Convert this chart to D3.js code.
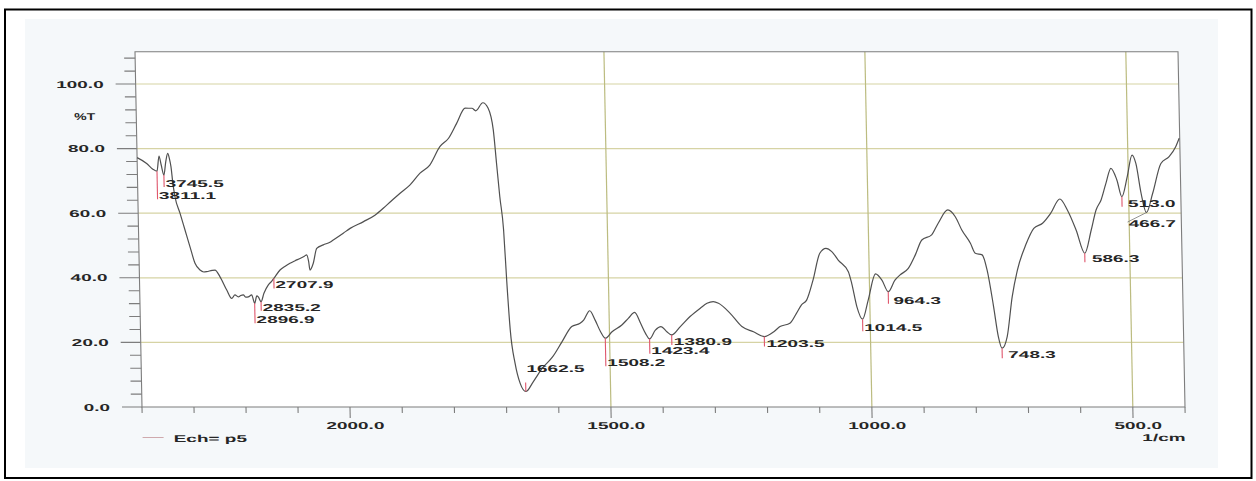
<!DOCTYPE html>
<html><head><meta charset="utf-8">
<script src="https://cdn.jsdelivr.net/npm/d3@7"></script>
<style>html,body{margin:0;padding:0;background:#fff;} svg{display:block;}</style>
</head><body>
<svg id="c" width="1256" height="481"></svg>
<script>
// ---------- data ----------
const wavenumber = [4000,3909,3850,3811.1,3789,3770,3745.5,3725,3705,3690,3676,3660,3643,3598,3553,3508,3463,3416,3380,3352,3300,3272,3225,3163,3117,3085,3053,3030,3005,2980,2957,2924,2896.9,2875,2861,2835.2,2806,2762,2730,2707.9,2647,2600,2550,2500,2453,2410,2388,2370,2359,2326,2290,2226,2162,2129,2032,1993,1967,1945,1922,1896,1877,1857,1838,1818,1801,1785,1768,1755,1748,1734,1724,1715,1710,1705,1699,1695,1690,1682,1673,1662.5,1648,1630,1610,1592,1572,1556,1549,1537,1527,1517,1508.2,1495,1476,1463,1451,1440,1431,1423.4,1412,1401,1390,1380.9,1364,1345,1325,1312,1300,1290,1268,1246,1224,1203.5,1185,1173,1154,1141,1131,1121,1108,1094,1082,1071,1059,1040,1034,1025,1014.5,1003,988,976,964.3,951,941,925,911,898,879,866,847,833,821,805,796,783,774,763,755,748.3,738,727,716,699,683,666,650,632,618,602,586.3,573,563,553,543,533,522,513,502,492,485,476,466.7,454,437,421,408,401];
const transmittance = [77.2,75.4,73.6,73.0,77.7,75.0,71.8,76.0,78.5,77.0,74.4,69.0,65.1,60.0,54.8,49.6,44.5,42.4,41.8,41.9,42.3,42.4,40.3,36.2,33.6,34.7,34.1,34.5,34.7,34.0,34.1,34.7,32.1,34.4,34.1,32.6,35.2,37.8,38.9,39.8,42.4,43.5,44.5,45.3,46.0,46.7,47.1,45.0,42.4,44.5,49.1,50.2,51.0,51.7,53.8,55.3,57.4,59.4,62.5,66.2,68.7,72.4,74.9,80.6,83.2,87.8,92.5,92.5,91.7,94.2,92.5,85.8,75.4,65.1,54.8,39.3,23.8,13.5,7.3,4.8,7.8,12.0,15.5,20.0,24.9,25.9,26.9,29.8,26.9,23.3,21.3,23.3,25.4,27.5,29.3,25.9,22.8,21.1,23.8,24.9,23.3,22.3,24.9,28.0,30.6,32.1,32.6,32.1,29.0,24.9,23.3,21.8,23.3,24.9,25.9,29.0,31.6,33.1,39.3,47.6,49.1,48.1,45.5,41.9,38.3,31.1,27.2,33.1,41.2,39.3,35.7,39.3,40.9,42.9,47.1,51.7,53.3,56.9,61.0,58.9,54.8,50.7,47.6,47.1,42.4,31.1,21.8,18.2,21.8,34.1,42.4,50.2,55.3,56.9,60.0,64.4,61.0,54.8,47.6,54.8,61.0,64.1,69.3,73.9,70.3,65.1,71.3,78.0,75.4,66.1,60.2,66.1,75.4,77.5,80.6,83.2];

const peakWavenumbers = [3811.1,3745.5,2896.9,2835.2,2707.9,1662.5,1508.2,1423.4,1380.9,1203.5,1014.5,964.3,748.3,586.3,513.0,466.7];
const peakTransmittance = [73.0,71.8,32.1,32.6,39.8,4.8,21.3,21.1,22.3,21.8,27.2,35.7,18.2,47.6,65.1,60.2];
const peakLabels = ["3811.1","3745.5","2896.9","2835.2","2707.9","1662.5","1508.2","1423.4","1380.9","1203.5","1014.5","964.3","748.3","586.3","513.0","466.7"];

const xMajorTicks = [2000,1500,1000,500];
const xMajorTickLabels = ["2000.0","1500.0","1000.0","500.0"];
const xMinorTicks = [4000,3500,3000,2500,1900,1800,1700,1600,1400,1300,1200,1100,900,800,700,600,400];
const yMajorTicks = [0,20,40,60,80,100];
const yMajorTickLabels = ["0.0","20.0","40.0","60.0","80.0","100.0"];
const yMinorTicks = [4,8,12,16,24,28,32,36,44,48,52,56,64,68,72,76,84,88,92,96,104,108];
const gridY = [20,40,60,80,100];
const gridX = [1500,1000,500];
const yUnit = "%T";
const xUnit = "1/cm";
const legendLabel = "Ech= p5";

// ---------- layout (pixels) ----------
// per peak label: [line length, text dx, text dy]  (negative length = line drawn upward)
const peakLabelLayout = [[28,1.5,28],[12,1.5,12],[20,1.5,20],[9,1.5,9],[10,1.5,10],[-9,1,-19],[28,1.5,28],[15,1.5,15],[10,2,10],[10,2,10],[12,1.5,12],[12,5,12],[10,6,10],[9,7,9],[10,6,10],[0,-18,14.5]];

const svg = d3.select("#c");
const W = 1256, H = 481;
const FONT = "'Liberation Sans', Arial, sans-serif";
const SX = 1.9;

// paper + outer frame
svg.append("rect").attr("x",0).attr("y",0).attr("width",W).attr("height",H).attr("fill","#fff");
svg.append("rect").attr("x",25).attr("y",19).attr("width",1193).attr("height",449).attr("fill","#f5f8fa");
svg.append("rect").attr("x",5).attr("y",9.5).attr("width",1246.5).attr("height",468.5)
   .attr("fill","none").attr("stroke","#000").attr("stroke-width",2);

const x = d3.scaleLinear().domain([4000,2000,400]).range([142,350,1185]);
const y = d3.scaleLinear().domain([0,110]).range([407,51.7]);

const k = 0.0197;
const g = svg.append("g")
  .attr("transform", `translate(${-k*407},0) skewX(${Math.atan(k)*180/Math.PI})`);

function txt(sel, tx, ty, s, anchor, sx){
  return sel.append("text")
    .attr("transform", `translate(${tx},${ty}) scale(${sx||SX},1)`)
    .attr("text-anchor", anchor||"start")
    .attr("font-family", FONT).attr("font-size", 10).attr("font-weight","bold").attr("fill","#262626")
    .text(s);
}

// plot area
g.append("rect").attr("x",x(4000)).attr("y",y(110)).attr("width",x(400)-x(4000)).attr("height",y(0)-y(110)).attr("fill","#fff");

// grid
g.selectAll(".gy").data(gridY).enter().append("line")
  .attr("x1",x(4000)).attr("x2",x(400)).attr("y1",d=>y(d)).attr("y2",d=>y(d))
  .attr("stroke","#d6d3a4").attr("stroke-width",1.2);
g.selectAll(".gx").data(gridX).enter().append("line")
  .attr("x1",d=>x(d)).attr("x2",d=>x(d)).attr("y1",y(0)).attr("y2",y(110))
  .attr("stroke","#bcbc80").attr("stroke-width",1.2);

// frame / axes
const axisCol = "#7d7d7d";
g.append("rect").attr("x",x(4000)).attr("y",y(110)).attr("width",x(400)-x(4000)).attr("height",y(0)-y(110))
  .attr("fill","none").attr("stroke",axisCol).attr("stroke-width",1.1);

// x ticks
g.selectAll(".xmin").data(xMinorTicks).enter().append("line")
  .attr("x1",d=>x(d)).attr("x2",d=>x(d)).attr("y1",y(0)).attr("y2",y(0)+6)
  .attr("stroke",axisCol).attr("stroke-width",1.1);
g.selectAll(".xmaj").data(xMajorTicks).enter().append("line")
  .attr("x1",d=>x(d)).attr("x2",d=>x(d)).attr("y1",y(0)).attr("y2",y(0)+11)
  .attr("stroke",axisCol).attr("stroke-width",1.1);
xMajorTicks.forEach((d,i)=> txt(g, x(d)+5, 428.5, xMajorTickLabels[i], "middle"));
txt(g, x(400), 440.5, xUnit, "end");

// y ticks
g.selectAll(".ymin").data(yMinorTicks).enter().append("line")
  .attr("x1",x(4000)-11).attr("x2",x(4000)).attr("y1",d=>y(d)).attr("y2",d=>y(d))
  .attr("stroke",axisCol).attr("stroke-width",1.1);
g.selectAll(".ymaj").data(yMajorTicks).enter().append("line")
  .attr("x1",x(4000)-20).attr("x2",x(4000)).attr("y1",d=>y(d)).attr("y2",d=>y(d))
  .attr("stroke",axisCol).attr("stroke-width",1.1);
yMajorTicks.forEach((d,i)=> txt(g, x(4000)-32, y(d)+3.6, yMajorTickLabels[i], "end"));
txt(g, x(4000)-41, y(90)+3.6, yUnit, "end", 1.4);

// spectrum
const line = d3.line().x((d,i)=>x(wavenumber[i])).y((d,i)=>y(transmittance[i])).curve(d3.curveMonotoneX);
g.append("path").datum(transmittance).attr("d",line)
  .attr("fill","none").attr("stroke","#505050").attr("stroke-width",1.2).attr("stroke-linejoin","round");

// peak markers
peakWavenumbers.forEach((w,i)=>{
  const px = x(w), py = y(peakTransmittance[i]);
  const [L,dx,dy] = peakLabelLayout[i];
  if (L !== 0) {
    g.append("line").attr("x1",px).attr("x2",px).attr("y1",py).attr("y2",py+L)
      .attr("stroke","#e0566c").attr("stroke-width",1.1);
  } else {
    g.append("line").attr("x1",px).attr("x2",px+dx-1).attr("y1",py).attr("y2",py+dy-5)
      .attr("stroke","#777").attr("stroke-width",0.8);
  }
  txt(g, px+dx, py+dy, peakLabels[i], "start");
});

// legend
g.append("line").attr("x1",142).attr("x2",163).attr("y1",437.5).attr("y2",437.5)
  .attr("stroke","#cfa9ad").attr("stroke-width",1.2);
txt(g, 173, 441.5, legendLabel, "start");
</script>
</body></html>
